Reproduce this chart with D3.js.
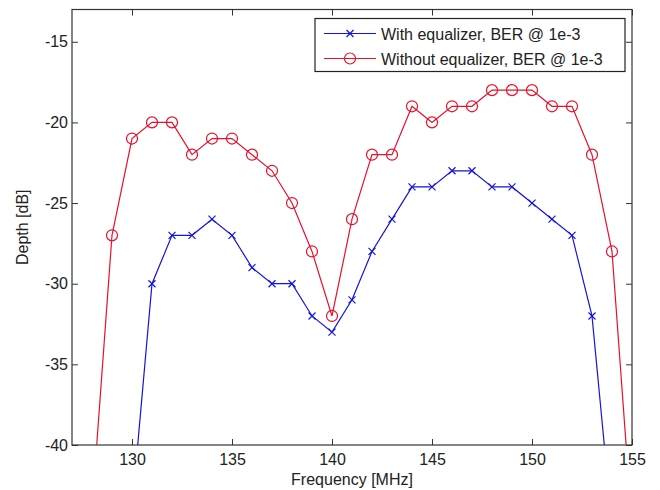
<!DOCTYPE html>
<html>
<head>
<meta charset="utf-8">
<script src="https://cdn.jsdelivr.net/npm/d3@7"></script>
<style>
  body { margin: 0; background: #fff; }
  svg text { font-family: "Liberation Sans", Arial, sans-serif; fill: #222; }
</style>
</head>
<body>
<svg id="chart" width="660" height="490"></svg>
<script>
'use strict';

// frequency points (MHz)
var freqs = [128, 129, 130, 131, 132, 133, 134, 135, 136, 137, 138, 139, 140, 141,
             142, 143, 144, 145, 146, 147, 148, 149, 150, 151, 152, 153, 154, 155];

// depth [dB], with equalizer (first and last values run off the axes)
var withEq = [null, null, -44, -30, -27, -27, -26, -27, -29, -30, -30, -32, -33, -31,
              -28, -26, -24, -24, -23, -23, -24, -24, -25, -26, -27, -32, -45, null];

// depth [dB], without equalizer
var withoutEq = [-44, -27, -21, -20, -20, -22, -21, -21, -22, -23, -25, -28, -32, -26,
                 -22, -22, -19, -20, -19, -19, -18, -18, -18, -19, -19, -22, -28, -45];

var xTicks = [130, 135, 140, 145, 150, 155];
var yTicks = [-40, -35, -30, -25, -20, -15];
var seriesNames = ['With equalizer, BER @ 1e-3', 'Without equalizer, BER @ 1e-3'];

var margin = {left: 72, top: 9.5, right: 28, bottom: 45},
    width = 660 - margin.left - margin.right,
    height = 490 - margin.top - margin.bottom;

var svg = d3.select('#chart');

var x = d3.scaleLinear().domain([127, 155]).range([0, width]);
var y = d3.scaleLinear().domain([-40, -13]).range([height, 0]);

var g = svg.append('g').attr('transform', 'translate(' + margin.left + ',' + margin.top + ')');

svg.append('defs').append('clipPath').attr('id', 'plot-clip')
  .append('rect').attr('width', width).attr('height', height);

// plain hyphen like MATLAB, not the unicode minus d3 uses
var plainFmt = function(d) { return String(d); };

// Axes with inward ticks on all four sides (MATLAB box style)
var tickLen = 6;
function styleAxis(sel) {
  sel.select('.domain').remove();
  sel.selectAll('line').attr('stroke', '#333');
  sel.selectAll('text').attr('font-size', '16px');
}

g.append('g').attr('transform', 'translate(0,' + height + ')')
  .call(d3.axisBottom(x).tickValues(xTicks).tickSize(-tickLen).tickPadding(9).tickFormat(plainFmt))
  .call(styleAxis);
g.append('g')
  .call(d3.axisTop(x).tickValues(xTicks).tickSize(-tickLen).tickFormat(''))
  .call(styleAxis);
g.append('g')
  .call(d3.axisLeft(y).tickValues(yTicks).tickSize(-tickLen).tickPadding(4).tickFormat(plainFmt))
  .call(styleAxis);
g.append('g').attr('transform', 'translate(' + width + ',0)')
  .call(d3.axisRight(y).tickValues(yTicks).tickSize(-tickLen).tickFormat(''))
  .call(styleAxis);

g.append('rect')
  .attr('width', width).attr('height', height)
  .attr('fill', 'none').attr('stroke', '#333').attr('stroke-width', 1.2);

// Series
var series = [
  {name: seriesNames[0], values: withEq, color: '#1414dc', marker: 'x'},
  {name: seriesNames[1], values: withoutEq, color: '#e8102a', marker: 'o'}
];

var line = d3.line()
  .defined(function(d) { return d.v !== null; })
  .x(function(d) { return x(d.f); })
  .y(function(d) { return y(d.v); });

var plot = g.append('g').attr('clip-path', 'url(#plot-clip)');

function drawMarker(sel, kind, color) {
  if (kind === 'o') {
    sel.append('circle').attr('r', 5.5)
      .attr('fill', 'none').attr('stroke', color).attr('stroke-width', 1.2);
  } else {
    sel.append('path').attr('d', 'M-3.5,-3.5L3.5,3.5M-3.5,3.5L3.5,-3.5')
      .attr('stroke', color).attr('stroke-width', 1.2);
  }
}

series.forEach(function(s) {
  var pts = freqs.map(function(f, i) { return {f: f, v: s.values[i]}; });
  plot.append('path').datum(pts)
    .attr('d', line)
    .attr('fill', 'none')
    .attr('stroke', s.color)
    .attr('stroke-width', 1.2);

  var inside = pts.filter(function(d) { return d.v !== null && d.v >= -40; });
  plot.selectAll(null).data(inside).enter().append('g')
    .attr('transform', function(d) { return 'translate(' + x(d.f) + ',' + y(d.v) + ')'; })
    .each(function() { drawMarker(d3.select(this), s.marker, s.color); });
});

// Axis labels
svg.append('text')
  .attr('x', margin.left + width / 2).attr('y', 485)
  .attr('text-anchor', 'middle').attr('font-size', '16px')
  .text('Frequency [MHz]');

svg.append('text')
  .attr('transform', 'translate(28,' + (margin.top + height / 2) + ') rotate(-90)')
  .attr('text-anchor', 'middle').attr('font-size', '16px')
  .text('Depth [dB]');

// Legend
var legend = svg.append('g').attr('transform', 'translate(315,18.5)');
legend.append('rect').attr('width', 310).attr('height', 53)
  .attr('fill', '#fff').attr('stroke', '#222').attr('stroke-width', 1.2);

series.forEach(function(s, i) {
  var row = legend.append('g').attr('transform', 'translate(0,' + (15 + i * 25) + ')');
  row.append('line').attr('x1', 9).attr('x2', 61)
    .attr('stroke', s.color).attr('stroke-width', 1.2);
  drawMarker(row.append('g').attr('transform', 'translate(35,0)'), s.marker, s.color);
  row.append('text').attr('x', 66).attr('y', 6)
    .attr('font-size', '16px').text(s.name);
});
</script>
</body>
</html>
